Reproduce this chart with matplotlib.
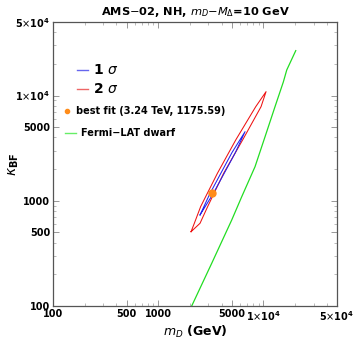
import numpy as np
import matplotlib
matplotlib.use("Agg")
import matplotlib.pyplot as plt
from matplotlib.ticker import FixedLocator, FixedFormatter, NullFormatter

# ---- data ----
# Fermi-LAT dwarf bound (m_D [GeV], kappa_BF)
fermi_m = [2080, 3226, 4996, 6220, 8318, 10356, 12880, 15450, 16650, 20280]
fermi_k = [100, 255, 657, 1094, 2109, 4063, 7843, 13460, 17500, 26730]

# 2 sigma contour (closed loop)
red_m = [2050, 2204, 2529, 3653, 5454, 8450, 10585, 9490, 6342, 4185, 2948, 2496, 2050]
red_k = [508, 611, 879, 1826, 3785, 7843, 10890, 7843, 3785, 1826, 879, 611, 508]

# 1 sigma contour (closed loop)
blue_m = [2496, 3080, 3936, 5028, 6686, 5416, 4241, 3304, 2496]
blue_k = [733, 1155, 1826, 2878, 4538, 2878, 1826, 1155, 733]

best_m, best_k = 3240, 1175.59

ticks = [100, 500, 1000, 5000, 1e4, 5e4]
tick_labels = ["100", "500", "1000", "5000",
               r"1$\times$10$^{\mathbf{4}}$", r"5$\times$10$^{\mathbf{4}}$"]

fig = plt.figure(figsize=(3.54, 3.41), dpi=100)
ax = fig.add_axes([53/354, 1-306/341, 284/354, 284/341])

ax.plot(fermi_m, fermi_k, color='#22dd22', lw=0.9)
ax.plot(red_m, red_k, color='#ee1111', lw=0.75)
ax.plot(blue_m, blue_k, color='#2222ee', lw=0.75)
ax.plot([best_m], [best_k], 'o', color='#ff8c1a', ms=5, zorder=5)

ax.set_xscale('log')
ax.set_yscale('log')
ax.set_xlim(100, 5e4)
ax.set_ylim(100, 5e4)

for axis in (ax.xaxis, ax.yaxis):
    axis.set_major_locator(FixedLocator(ticks))
    axis.set_major_formatter(FixedFormatter(tick_labels))
    axis.set_minor_formatter(NullFormatter())
ax.tick_params(which='both', direction='in', top=True, right=True,
               color='#888888', labelsize=7)
ax.tick_params(which='major', length=4, width=0.6, pad=2)
ax.tick_params(which='minor', length=2, width=0.4)
for lab in ax.get_xticklabels() + ax.get_yticklabels():
    lab.set_fontweight('bold')
for sp in ax.spines.values():
    sp.set_color('#555555')
    sp.set_linewidth(0.9)

ax.set_title(r"AMS$-$02, NH, $\mathit{m_D}$$-$$\mathit{M_\Delta}$=10 GeV",
             fontsize=8.2, fontweight='bold', pad=5)
ax.set_xlabel(r"$\mathit{m_D}$ (GeV)", fontsize=9, fontweight='bold', va='center')
ax.set_ylabel(r"$\kappa_{\mathbf{BF}}$", fontsize=10, fontweight='bold', va='center')
ax.xaxis.set_label_coords(0.5, -(332 - 306) / 284.)
ax.yaxis.set_label_coords((14 - 53) / 284., 0.5)

# legend drawn by hand in axes-fraction coordinates
def fx(px):
    return (px - 53) / 284.
def fy(py):
    return (306 - py) / 284.

ax.plot([fx(77), fx(88)], [fy(70)] * 2, color='#6666ee', lw=1.0, transform=ax.transAxes)
ax.text(fx(93), fy(70), r"1 $\sigma$", fontsize=10, fontweight='bold',
        va='center', transform=ax.transAxes)
ax.plot([fx(77), fx(88)], [fy(89)] * 2, color='#ee6666', lw=1.0, transform=ax.transAxes)
ax.text(fx(93), fy(89), r"2 $\sigma$", fontsize=10, fontweight='bold',
        va='center', transform=ax.transAxes)
ax.plot([fx(67)], [fy(111)], 'o', color='#ff8c1a', ms=3, transform=ax.transAxes)
ax.text(fx(76), fy(111), "best fit (3.24 TeV, 1175.59)", fontsize=7, fontweight='bold',
        va='center', transform=ax.transAxes)
ax.plot([fx(65), fx(76)], [fy(133)] * 2, color='#66ee66', lw=1.0, transform=ax.transAxes)
ax.text(fx(81), fy(133), "Fermi\u2212LAT dwarf", fontsize=7, fontweight='bold',
        va='center', transform=ax.transAxes)

fig.savefig("out.png", dpi=100)
